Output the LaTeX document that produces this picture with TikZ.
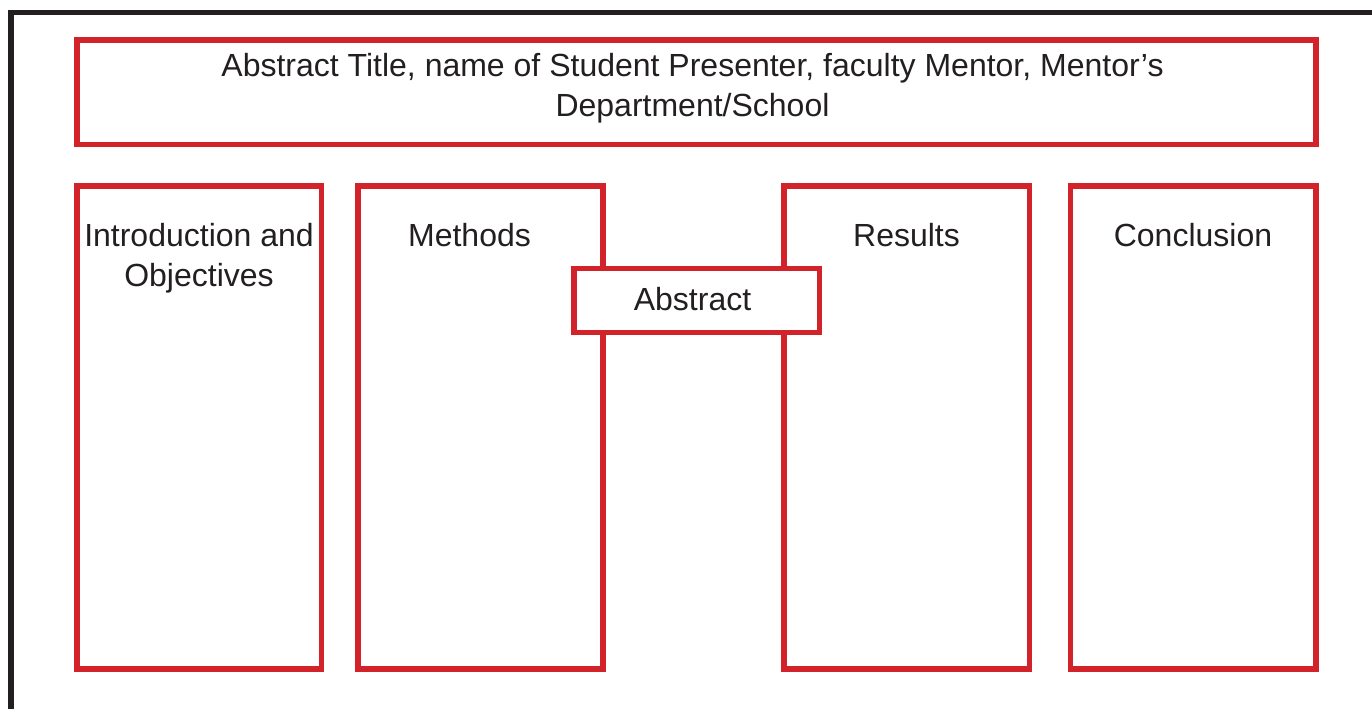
\documentclass[tikz,border=0pt]{standalone}
\usepackage{fontspec}
\setmainfont{Liberation Sans}
\definecolor{posterred}{HTML}{D2232A}
\definecolor{frameblack}{HTML}{231F20}
\definecolor{textgrey}{HTML}{231F20}
\tikzset{
  panel/.style={draw=posterred, line width=2.7pt, fill=white},
  heading/.style={font=\fontsize{16}{20}\selectfont, text=textgrey, inner sep=0pt, align=center, anchor=base}
}
\begin{document}
\begin{tikzpicture}[x=0.5pt,y=-0.5pt]
   \useasboundingbox (0,0) rectangle (1372,709);
   % outer frame, open on the right and at the bottom
   \draw[frameblack, line width=2.6pt] (11,709) -- (11,12.5) -- (1372,12.5);
   % title band (base of a two-line node = its last line)
   \draw[panel] (77,40) rectangle (1316,144.5);
   \node[heading] (title) at (692.5,116) {Abstract Title, name of Student Presenter, faculty Mentor, Mentor’s\\Department/School};
   % four columns
   \draw[panel] (77,186) rectangle (321.5,669);
   \draw[panel] (358,186) rectangle (603,669);
   \draw[panel] (784,186) rectangle (1029.5,669);
   \draw[panel] (1070.5,186) rectangle (1316,669);
   \node[heading] (intro) at (199,286) {Introduction and\\Objectives};
   \node[heading] (methods) at (469.5,246.7) {Methods};
   \node[heading] (results) at (906.5,246.7) {Results};
   \node[heading] (conclusion) at (1193,246.7) {Conclusion};
   % abstract box over the gap
   \draw[panel] (574,268.5) rectangle (819.5,332.5);
   \node[heading] (abstract) at (692.5,310) {Abstract};
\end{tikzpicture}
\end{document}
